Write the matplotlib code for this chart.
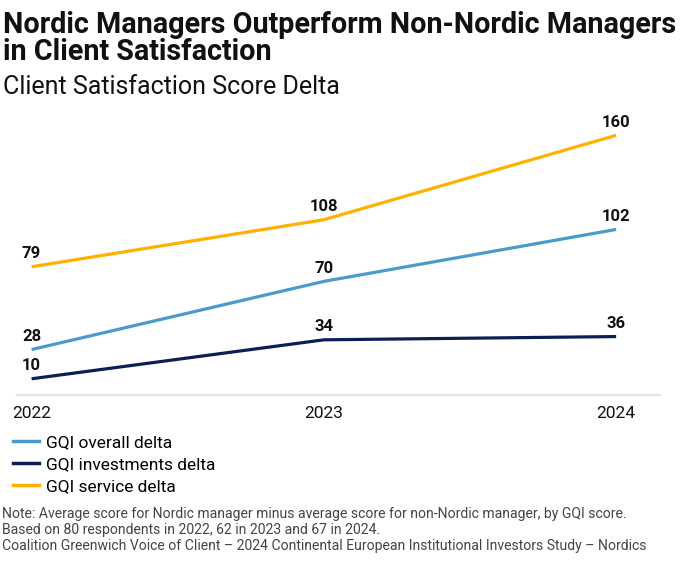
import matplotlib
matplotlib.use("Agg")
import matplotlib.pyplot as plt
from matplotlib.lines import Line2D

plt.rcParams['font.family'] = ['Roboto', 'DejaVu Sans']

years = [2022, 2023, 2024]
overall = [28, 70, 102]
investments = [10, 34, 36]
service = [79, 108, 160]

series_names = ["GQI overall delta", "GQI investments delta", "GQI service delta"]
series_colors = ["#4A9BCB", "#0B1F52", "#FFB000"]
series_values = [overall, investments, service]

fig = plt.figure(figsize=(6.85, 5.65), dpi=100)
ax = fig.add_axes([17 / 685, 170 / 565, 643 / 685, 280 / 565])

for vals, col in zip(series_values, series_colors):
    ax.plot(years, vals, color=col, lw=2.3, solid_joinstyle='round', solid_capstyle='butt')
    for x, v in zip(years, vals):
        ax.annotate(str(v), (x, v), xytext=(0, 4), textcoords='offset points',
                    ha='center', va='bottom', fontsize=12, fontweight='bold', color='#111111')

ax.set_xlim(2021.95, 2024.15)
ax.set_ylim(0, 172.5)
for s in ['top', 'right', 'left']:
    ax.spines[s].set_visible(False)
ax.spines['bottom'].set_color('#e3e3e3')
ax.spines['bottom'].set_linewidth(1.5)
ax.set_yticks([])
ax.set_xticks(years)
ax.set_xticklabels([str(y) for y in years], fontsize=12.5, color='#111111')
ax.tick_params(axis='x', length=0, pad=8)

fig.text(3 / 685, 1 - 25 / 565, "Nordic Managers Outperform Non-Nordic Managers",
         fontsize=20.7, fontweight='bold', va='center', ha='left', color='#111111')
fig.text(3 / 685, 1 - 52 / 565, "in Client Satisfaction",
         fontsize=20.7, fontweight='bold', va='center', ha='left', color='#111111')
fig.text(3 / 685, 1 - 87 / 565, "Client Satisfaction Score Delta", fontsize=18, va='center',
         ha='left', color='#111111')

handles = [Line2D([0], [0], color=c, lw=2.5) for c in series_colors]
fig.legend(handles, series_names, loc='upper left', bbox_to_anchor=(6 / 685, 1 - 428 / 565),
           frameon=False, fontsize=12.5, handlelength=1.5, handletextpad=0.4, labelspacing=0.4,
           borderaxespad=0)

notes = ("Note: Average score for Nordic manager minus average score for non-Nordic manager, by GQI score.\n"
         "Based on 80 respondents in 2022, 62 in 2023 and 67 in 2024.\n"
         "Coalition Greenwich Voice of Client \u2013 2024 Continental European Institutional Investors Study \u2013 Nordics")
fig.text(2 / 685, 1 - 507 / 565, notes, fontsize=10.1, va='top', ha='left', color='#444444', linespacing=1.2)

fig.savefig("out.png", dpi=100)
